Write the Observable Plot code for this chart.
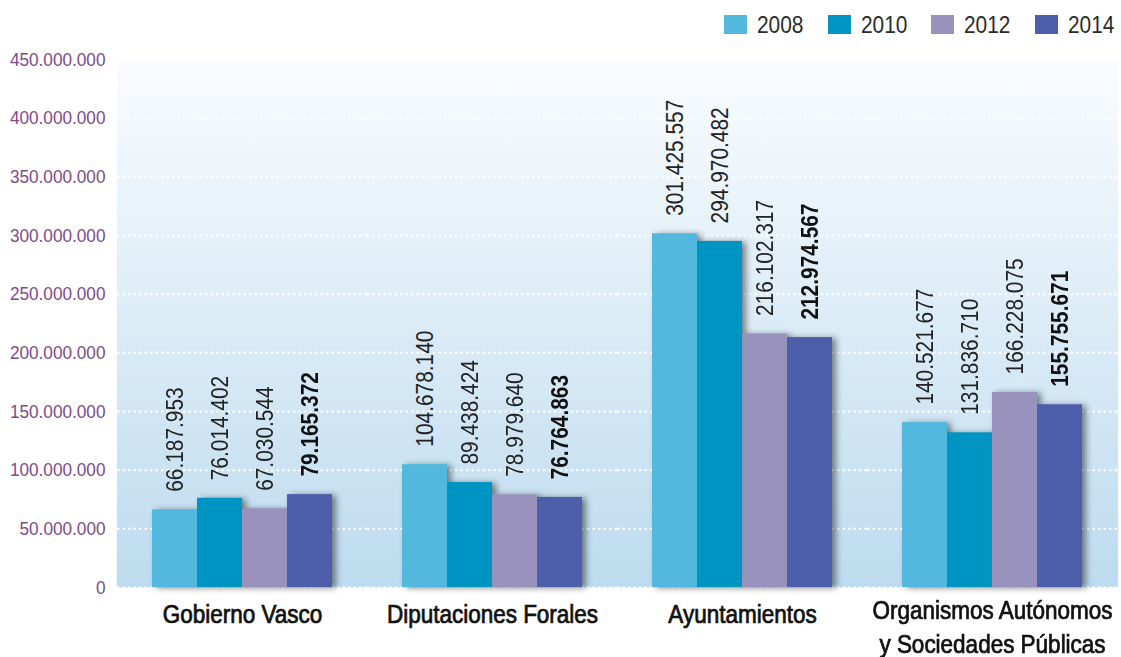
<!DOCTYPE html>
<html><head><meta charset="utf-8">
<script src="https://cdn.jsdelivr.net/npm/d3@7"></script>
<script src="https://cdn.jsdelivr.net/npm/@observablehq/plot@0.6"></script>
<style>
body{margin:0;background:#fff;}
#wrap{position:relative;width:1121px;height:657px;overflow:hidden;}
#legend{height:45px;position:relative;font-family:"Liberation Sans",Arial,sans-serif;font-size:24px;color:#2a2a2a;}
#legend .row{position:absolute;right:0px;top:15px;display:flex;gap:17px;}
#legend .item{display:flex;align-items:center;height:19px;}
#legend .sw{width:23px;height:19px;margin-right:10px;}
#legend .lab{display:inline-block;transform:scaleX(0.87);transform-origin:0 50%;line-height:19px;}
</style></head><body>
<div id="wrap"><div id="legend"><div class="row"></div></div><div id="chart"></div></div>
<script>
const groups = ["Gobierno Vasco", "Diputaciones Forales", "Ayuntamientos", "Organismos Autónomos\ny Sociedades Públicas"];
const years = ["2008", "2010", "2012", "2014"];
const colors = ["#52b8de", "#0094c3", "#9892bd", "#4d5fab"];
const v2008 = [66187953, 104678140, 301425557, 140521677];
const v2010 = [76014402, 89438424, 294970482, 131836710];
const v2012 = [67030544, 78979640, 216102317, 166228075];
const v2014 = [79165372, 76764863, 212974567, 155755671];
const yTicks = [0, 50000000, 100000000, 150000000, 200000000, 250000000, 300000000, 350000000, 400000000, 450000000];

const series = [v2008, v2010, v2012, v2014];
const data = groups.flatMap((g, i) => years.map((y, j) => ({group: g, year: y, value: series[j][i]})));
const fmt = d3.formatLocale({decimal: ",", thousands: ".", grouping: [3], currency: ["", ""]}).format(",");
const FONT = "'Liberation Sans',Arial,sans-serif";

// legend
const row = document.querySelector("#legend .row");
years.forEach((y, j) => {
  const it = document.createElement("div"); it.className = "item";
  it.innerHTML = `<div class="sw" style="background:${colors[j]}"></div><span class="lab">${y}</span>`;
  row.appendChild(it);
});

const plot = Plot.plot({
  width: 1121, height: 612,
  marginLeft: 115, marginRight: 3, marginTop: 14, marginBottom: 70,
  style: {fontFamily: FONT, background: "transparent", overflow: "visible"},
  fx: {domain: groups, padding: 0, label: null},
  x: {domain: years, paddingInner: 0, paddingOuter: 0.77, axis: null},
  y: {domain: [0, 450000000], label: null},
  color: {domain: years, range: colors},
  marks: [
    Plot.frame({fill: "url(#bgGrad)", stroke: "none", insetLeft: -0.6, insetRight: -0.6}),
    Plot.gridY(yTicks, {stroke: "white", strokeOpacity: 1, strokeWidth: 2, strokeDasharray: "2.5,3"}),
    Plot.barY(data, {fx: "group", x: "year", y: "value", fill: "year"}),
    Plot.text(data.filter(d => d.year !== "2014"), {fx: "group", x: "year", y: "value", text: d => fmt(d.value),
      rotate: -90, textAnchor: "start", dy: -18, fontSize: 24, fill: "#222"}),
    Plot.text(data.filter(d => d.year === "2014"), {fx: "group", x: "year", y: "value", text: d => fmt(d.value),
      rotate: -90, textAnchor: "start", dy: -18, fontSize: 24, fontWeight: "bold", fill: "#111"}),
    Plot.axisY(yTicks, {tickSize: 0, tickPadding: 12, fontSize: 19, fill: "#7d4a8a", tickFormat: fmt, label: null}),
    Plot.axisFx({anchor: "bottom", tickSize: 0, tickPadding: 12, fontSize: 25, fill: "#111", lineHeight: 1.34, label: null})
  ]
});

const svg = d3.select(plot);
const defs = svg.insert("defs", ":first-child");
const lg = defs.append("linearGradient").attr("id", "bgGrad").attr("x1", 0).attr("y1", 0).attr("x2", 0).attr("y2", 1);
lg.append("stop").attr("offset", 0).attr("stop-color", "#fafcfe");
lg.append("stop").attr("offset", 1).attr("stop-color", "#bddbef");
svg.selectAll('g[aria-label="bar"]').style("filter", "drop-shadow(4px 1px 3px rgba(0,0,0,0.45))");

// condensed look: squeeze glyphs horizontally (along the text direction)
function squeeze(sel, s, extra = "") {
  sel.each(function() {
    const t = this.getAttribute("transform");
    if (t) this.setAttribute("transform", extra + t + ` scale(${s},1)`);
    else {
      const x = +this.getAttribute("x") || 0, y = +this.getAttribute("y") || 0;
      this.removeAttribute("x"); this.removeAttribute("y");
      this.setAttribute("transform", `${extra}translate(${x},${y}) scale(${s},1)`);
    }
  });
}
squeeze(svg.selectAll('g[aria-label="text"] text'), 0.87);
squeeze(svg.selectAll('g[aria-label="y-axis tick label"] text'), 0.905);
svg.selectAll('g[aria-label="fx-axis tick label"] text').each(function() {
  const multi = this.querySelectorAll("tspan").length > 1;
  squeeze(d3.select(this), 0.9, multi ? "translate(0,-4) " : "");
});
svg.selectAll('g[aria-label="fx-axis tick label"] text').attr("stroke", "#111").attr("stroke-width", 0.75);

document.getElementById("chart").appendChild(plot);
</script>
</body></html>
